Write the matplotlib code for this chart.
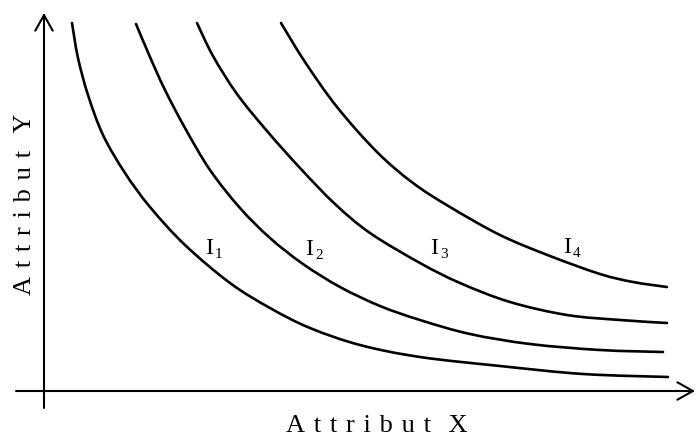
import matplotlib
matplotlib.use("Agg")
import matplotlib.pyplot as plt
from matplotlib.path import Path
from matplotlib.patches import PathPatch

plt.rcParams["font.family"] = ["Liberation Serif", "DejaVu Serif"]

# curve points (pixel-like units, y grows downward)
i1_x = [72, 78, 88, 103, 125, 150, 185, 230, 270, 310, 360, 420, 500, 583, 668]
i1_y = [23, 58, 95, 135, 173, 207, 245, 283, 308, 328, 345, 357, 366, 374, 377]

i2_x = [136, 150, 165, 185, 210, 240, 270, 303, 340, 380, 420, 470, 530, 600, 663]
i2_y = [24, 57, 90, 128, 170, 208, 238, 264, 287, 306, 320, 334, 344, 350, 352]

i3_x = [197, 213, 237, 267, 300, 335, 370, 420, 460, 510, 567, 620, 667]
i3_y = [23, 56, 94, 131, 168, 204, 233, 263, 283, 302, 315, 320, 323]

i4_x = [281, 305, 337, 377, 413, 450, 500, 550, 600, 633, 667]
i4_y = [23, 62, 107, 152, 183, 207, 235, 256, 274, 282, 287]

curve_names = ["1", "2", "3", "4"]
label_x = [205, 305, 430, 563]
label_y = [254, 255, 254, 253]

fig = plt.figure(figsize=(6.96, 4.36), dpi=100, facecolor="white")
ax = fig.add_axes([0, 0, 1, 1])
ax.set_xlim(0, 696)
ax.set_ylim(436, 0)
ax.axis("off")


def smooth_path(xs, ys):
    # Catmull-Rom through the points, drawn as cubic Bezier segments
    pts = list(zip(xs, ys))
    verts = [pts[0]]
    codes = [Path.MOVETO]
    n = len(pts)
    for i in range(n - 1):
        p0 = pts[i - 1] if i > 0 else pts[i]
        p1 = pts[i]
        p2 = pts[i + 1]
        p3 = pts[i + 2] if i + 2 < n else pts[i + 1]
        c1 = (p1[0] + (p2[0] - p0[0]) / 6, p1[1] + (p2[1] - p0[1]) / 6)
        c2 = (p2[0] - (p3[0] - p1[0]) / 6, p2[1] - (p3[1] - p1[1]) / 6)
        verts += [c1, c2, p2]
        codes += [Path.CURVE4] * 3
    return Path(verts, codes)


for xs, ys in [(i1_x, i1_y), (i2_x, i2_y), (i3_x, i3_y), (i4_x, i4_y)]:
    ax.add_patch(PathPatch(smooth_path(xs, ys), fill=False, edgecolor="black",
                           linewidth=1.9, capstyle="round"))

# axes with open arrowheads
arrow = dict(arrowstyle="->,head_length=0.8,head_width=0.45", color="black",
             lw=1.5, mutation_scale=14, shrinkA=0, shrinkB=0)
ax.annotate("", xy=(44, 13), xytext=(44, 408), arrowprops=arrow)
ax.annotate("", xy=(695, 391), xytext=(16, 391), arrowprops=arrow)

for name, lx, ly in zip(curve_names, label_x, label_y):
    ax.text(lx, ly, "I", fontsize=17.5, ha="left", va="baseline")
    ax.text(lx + 10, ly + 4, name, fontsize=11, ha="left", va="baseline")

sp = "\u2004"
ax.text(377, 432, sp.join("Attribut") + sp * 2 + "X", fontsize=19,
        ha="center", va="baseline")
ax.text(31, 204, sp.join("Attribut") + sp * 2 + "Y", fontsize=19,
        ha="center", va="baseline", rotation=90, rotation_mode="anchor")

fig.savefig("out.png", dpi=100, facecolor="white")
plt.close(fig)
